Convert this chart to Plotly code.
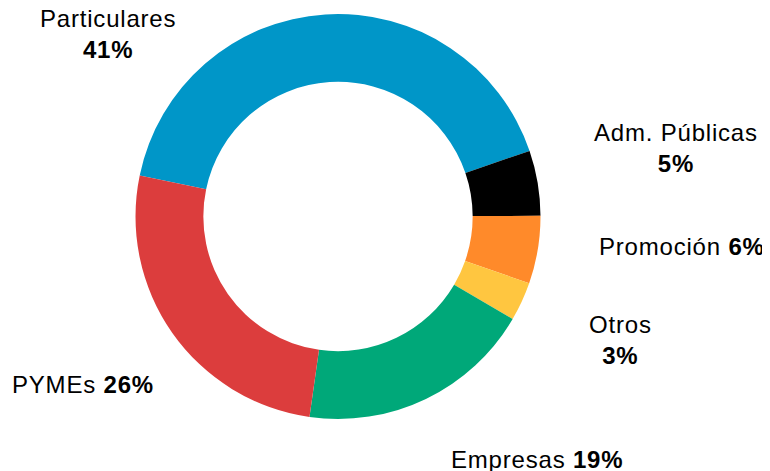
import plotly.graph_objects as go

# segmentos de clientes (orden horario desde Particulares)
segmentos = ["Particulares", "Adm. Públicas", "Promoción", "Otros", "Empresas", "PYMEs"]
valores = [41.5, 5.2, 5.4, 3.1, 18.8, 26.0]
porcentajes = ["41%", "5%", "6%", "3%", "19%", "26%"]
colores = ["#0096C8", "#000000", "#FF8A2A", "#FFC640", "#00A879", "#DC3D3D"]

W, H = 770, 471
OFF = 8  # margen del <body> de la página

# posición de cada etiqueta (px) y si el % va debajo o al lado
pos_etiquetas = [(108, 34), (676, 148), (682, 246), (620, 340), (537, 459), (83, 384)]
separador = ["<br>", "<br>", " ", "<br>", " ", " "]


def px2paper(x, y):
    return (x - OFF) / W, 1 - (y - OFF) / H


x0, y0 = px2paper(135, 419)
x1, y1 = px2paper(541, 14)

fig = go.Figure()
fig.add_trace(go.Pie(
    labels=segmentos,
    values=valores,
    marker=dict(colors=colores, line=dict(width=0)),
    hole=0.665,
    sort=False,
    direction="clockwise",
    rotation=-78.3,
    textinfo="none",
    hoverinfo="label+percent",
    showlegend=False,
    domain=dict(x=[x0, x1], y=[y0, y1]),
))

for seg, pct, sep, (px, py) in zip(segmentos, porcentajes, separador, pos_etiquetas):
    ax, ay = px2paper(px, py)
    fig.add_annotation(
        x=ax, y=ay, xref="paper", yref="paper",
        text=f'<span style="letter-spacing:0.8px">{seg}{sep}<b>{pct}</b></span>',
        showarrow=False, xanchor="center", yanchor="middle", align="center",
        font=dict(family="Liberation Sans, Arial", size=24, color="#000000"),
    )

fig.update_layout(
    width=W, height=H,
    margin=dict(l=0, r=0, t=0, b=0),
    paper_bgcolor="white",
    plot_bgcolor="white",
)

fig.write_html("out.html")
